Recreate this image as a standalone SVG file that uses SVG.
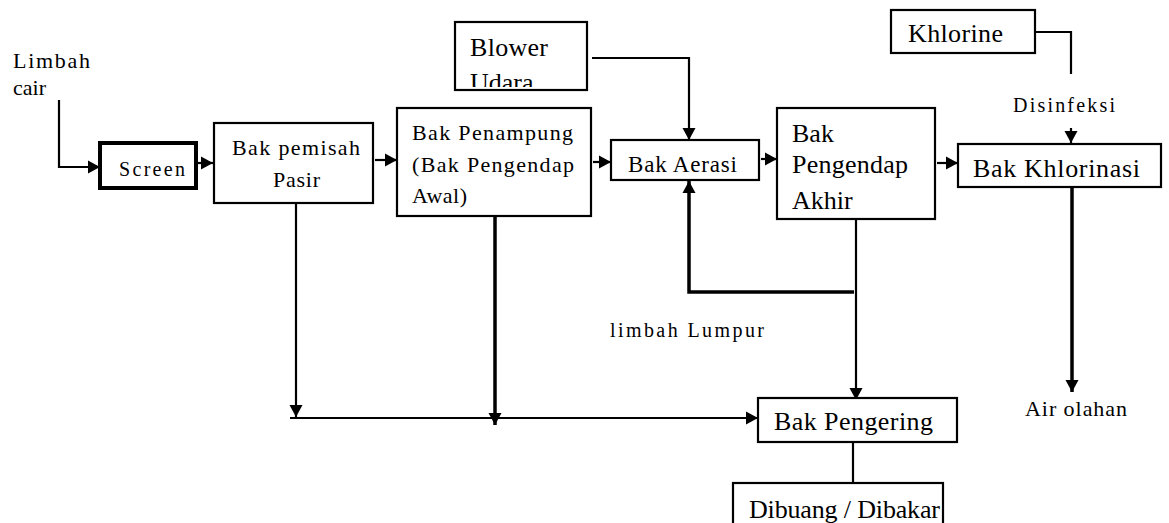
<svg xmlns="http://www.w3.org/2000/svg" width="1169" height="523" viewBox="0 0 1169 523">
<style>
text{font-family:'Liberation Serif','Times New Roman',serif;fill:#000}
.box{fill:#fff;stroke:#000;stroke-width:2.2}
.c{fill:none;stroke:#000;stroke-width:2.2}
.c3{fill:none;stroke:#000;stroke-width:3.5}
.s20{font-size:20px}.s22{font-size:22px}.s23{font-size:23px}.s26{font-size:26px}
</style>
<defs>
<marker id="ah" markerUnits="userSpaceOnUse" markerWidth="14" markerHeight="14" refX="12" refY="7" orient="auto">
<path d="M0,0.5 L12,7 L0,13.5 z" fill="#000"/>
</marker>
<clipPath id="blowClip"><rect x="455" y="22" width="132" height="65"/></clipPath>
</defs>
<g id="connectors">
<path class="c" d="M59,100 V167 H100" marker-end="url(#ah)"/>
<path class="c" d="M197,163 H213" marker-end="url(#ah)"/>
<path class="c" d="M375,160 H397" marker-end="url(#ah)"/>
<path class="c" d="M593,162 H611" marker-end="url(#ah)"/>
<path class="c" d="M592,58 H689 V140" marker-end="url(#ah)"/>
<path class="c" d="M761,159 H777" marker-end="url(#ah)"/>
<path class="c" d="M937,163 H958" marker-end="url(#ah)"/>
<path class="c" d="M1035,32 H1071 V74"/>
<path class="c" d="M1071,128 V143" marker-end="url(#ah)"/>
<path class="c3" d="M1072,187 V392" marker-end="url(#ah)"/>
<path class="c" d="M296,203 V417" marker-end="url(#ah)"/>
<path class="c3" d="M495,216 V425" marker-end="url(#ah)"/>
<path class="c" d="M290,418 H758" marker-end="url(#ah)"/>
<path class="c" d="M856,219 V400" marker-end="url(#ah)"/>
<path class="c3" d="M854,292 H689 V181" marker-end="url(#ah)"/>
<path class="c" d="M853,442 V483"/>
</g>
<g id="label-limbah-cair">
<text class="s22" x="13" y="68" textLength="77">Limbah</text>
<text class="s22" x="13" y="95">cair</text>
</g>
<g id="node-screen">
<rect class="box" x="100" y="143" width="96" height="45" style="stroke-width:4"/>
<text class="s20" x="119" y="176" textLength="66">Screen</text>
</g>
<g id="node-pemisah">
<rect class="box" x="214" y="123" width="159" height="80"/>
<text class="s22" x="232" y="155" textLength="128">Bak pemisah</text>
<text class="s22" x="273" y="187" textLength="47">Pasir</text>
</g>
<g id="node-penampung">
<rect class="box" x="397" y="108" width="194" height="108"/>
<text class="s22" x="412" y="140" textLength="161">Bak Penampung</text>
<text class="s22" x="412" y="172" textLength="162">(Bak Pengendap</text>
<text class="s22" x="412" y="203" textLength="55">Awal)</text>
</g>
<g id="node-blower">
<rect class="box" x="455" y="22" width="132" height="68"/>
<text class="s26" x="470" y="56" textLength="78">Blower</text>
<text class="s26" x="470" y="91" clip-path="url(#blowClip)">Udara</text>
</g>
<g id="node-aerasi">
<rect class="box" x="611" y="140" width="148" height="40"/>
<text class="s23" x="628" y="172" textLength="109">Bak Aerasi</text>
</g>
<g id="node-pengendap-akhir">
<rect class="box" x="777" y="108" width="158" height="111"/>
<text class="s26" x="792" y="142">Bak</text>
<text class="s26" x="792" y="173" textLength="116">Pengendap</text>
<text class="s26" x="792" y="209">Akhir</text>
</g>
<g id="node-khlorine">
<rect class="box" x="891" y="10" width="144" height="43"/>
<text class="s26" x="908" y="42" textLength="95">Khlorine</text>
</g>
<g id="label-disinfeksi">
<text class="s20" x="1013" y="112" textLength="102">Disinfeksi</text>
</g>
<g id="node-khlorinasi">
<rect class="box" x="958" y="144" width="203" height="43"/>
<text class="s26" x="973" y="177" textLength="167">Bak Khlorinasi</text>
</g>
<g id="label-air-olahan">
<text class="s22" x="1025" y="416" textLength="102">Air olahan</text>
</g>
<g id="label-limbah-lumpur">
<text class="s20" x="610" y="337" textLength="154">limbah Lumpur</text>
</g>
<g id="node-pengering">
<rect class="box" x="758" y="398" width="199" height="44"/>
<text class="s26" x="774" y="430" textLength="159">Bak Pengering</text>
</g>
<g id="node-dibuang">
<rect class="box" x="733" y="483" width="210" height="60"/>
<text class="s26" x="749" y="518" textLength="191">Dibuang / Dibakar</text>
</g>
</svg>
